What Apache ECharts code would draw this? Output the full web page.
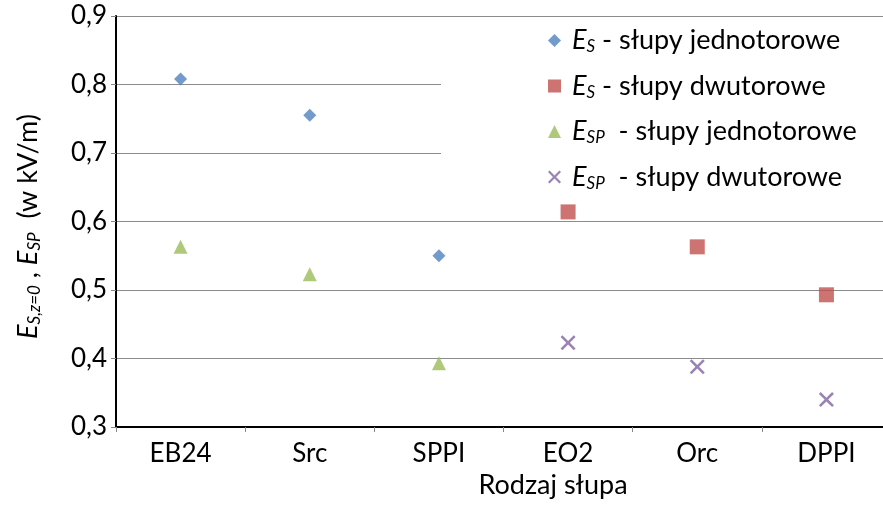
<!DOCTYPE html>
<html>
<head>
<meta charset="utf-8">
<script src="https://cdn.jsdelivr.net/npm/echarts@6/dist/echarts.min.js"></script>
<style>
html,body{margin:0;padding:0;background:#fff;}
#chart{width:883px;height:506px;}
</style>
</head>
<body>
<div id="chart"></div>
<script>
const categories = ['EB24', 'Src', 'SPPI', 'EO2', 'Orc', 'DPPI'];
const esSingle = [0.808, 0.755, 0.550, null, null, null];
const esDouble = [null, null, null, 0.614, 0.563, 0.493];
const espSingle = [0.563, 0.523, 0.393, null, null, null];
const espDouble = [null, null, null, 0.423, 0.388, 0.340];
const yMin = 0.3, yMax = 0.9, yStep = 0.1;
const seriesNames = ['ES1', 'ES2', 'ESP1', 'ESP2'];
const legendLabels = {
  ES1: '{e|E}{s|S}{t| - słupy jednotorowe}',
  ES2: '{e|E}{s|S}{t| - słupy dwutorowe}',
  ESP1: '{e|E}{s|SP}{t|  - słupy jednotorowe}',
  ESP2: '{e|E}{s|SP}{t|  - słupy dwutorowe}'
};

const FONT = 'Lato';
const crossPath = 'path://M0,1.2L1.2,0L5,3.8L8.8,0L10,1.2L6.2,5L10,8.8L8.8,10L5,6.2L1.2,10L0,8.8L3.8,5Z';

const chart = echarts.init(document.getElementById('chart'), null, {renderer: 'canvas'});

function mk(name, data, symbol, size, color) {
  return {
    name: name, type: 'scatter', data: data, symbol: symbol, symbolSize: size,
    itemStyle: {color: color}, emphasis: {disabled: true}
  };
}

const richLegend = {
  e: {fontFamily: FONT, fontStyle: 'italic', fontSize: 27, color: '#000', lineHeight: 30, padding: [0, 0, 0, 6]},
  s: {fontFamily: FONT, fontStyle: 'italic', fontSize: 17, color: '#000', lineHeight: 20, verticalAlign: 'bottom'},
  t: {fontFamily: FONT, fontSize: 27, color: '#000', lineHeight: 30}
};

chart.setOption({
  animation: false,
  backgroundColor: '#fff',
  grid: {left: 116, width: 775, top: 16, bottom: 79, containLabel: false, outerBoundsMode: 'none'},
  legend: {
    orient: 'vertical', left: 441, top: 19,
    padding: [8, 60, 10, 107],
    backgroundColor: '#fff',
    itemWidth: 13, itemHeight: 13, itemGap: 17,
    data: [
      {name: 'ES1', icon: 'diamond'},
      {name: 'ES2', icon: 'rect'},
      {name: 'ESP1', icon: 'triangle'},
      {name: 'ESP2', icon: crossPath}
    ],
    formatter: function (n) { return legendLabels[n]; },
    textStyle: {rich: richLegend},
    selectedMode: false,
    z: 10
  },
  xAxis: {
    type: 'category', data: categories, boundaryGap: true,
    name: 'Rodzaj słupa', nameLocation: 'middle', nameGap: 44,
    nameTextStyle: {fontFamily: FONT, fontSize: 27, color: '#000', padding: [0, 0, 0, 99]},
    axisLine: {lineStyle: {color: '#000', width: 2}},
    axisTick: {show: true, length: 5, lineStyle: {color: '#888'}},
    axisLabel: {fontFamily: FONT, fontSize: 26, color: '#000', margin: 14},
    splitLine: {show: false}
  },
  yAxis: {
    type: 'value', min: yMin, max: yMax, interval: yStep,
    name: '{e|E}{s|S,z=0}{n| , }{e|E}{s|SP}{n|  (w kV/m)}',
    nameLocation: 'middle', nameRotate: 90, nameGap: 73,
    nameTextStyle: {
      padding: [0, 10, 0, 0],
      rich: {
        e: {fontFamily: FONT, fontStyle: 'italic', fontSize: 27, color: '#000', lineHeight: 30},
        s: {fontFamily: FONT, fontStyle: 'italic', fontSize: 17, color: '#000', lineHeight: 20, verticalAlign: 'bottom'},
        n: {fontFamily: FONT, fontSize: 27, color: '#000', lineHeight: 30}
      }
    },
    axisLine: {show: true, lineStyle: {color: '#000', width: 2}},
    axisTick: {show: true, length: 5, lineStyle: {color: '#888'}},
    axisLabel: {
      fontFamily: FONT, fontSize: 26, color: '#000', margin: 9,
      formatter: function (v) { return v.toFixed(1).replace('.', ','); }
    },
    splitLine: {show: true, lineStyle: {color: '#8c8c8c', width: 1}}
  },
  series: [
    mk('ES1', esSingle, 'diamond', 13, '#4F81BD'),
    mk('ES2', esDouble, 'rect', 15, '#C0504D'),
    mk('ESP1', espSingle, 'triangle', 14, '#9BBB59'),
    mk('ESP2', espDouble, crossPath, 15, '#8064A2')
  ]
});
</script>
</body>
</html>
